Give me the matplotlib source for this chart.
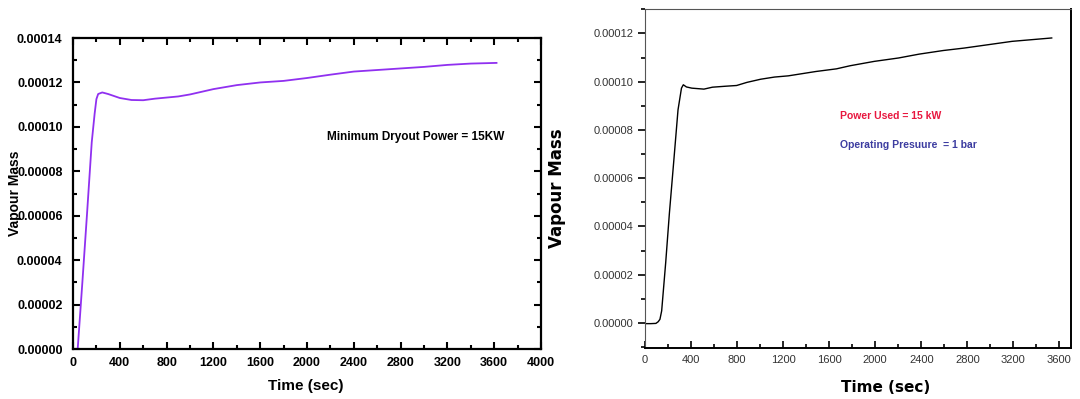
import numpy as np
import matplotlib
matplotlib.use("Agg")
import matplotlib.pyplot as plt
from matplotlib.ticker import MultipleLocator, FormatStrFormatter

# left chart: minimum dryout power run
t_left = [40, 80, 120, 160, 185, 200, 215, 250, 300, 400, 500, 600, 700, 800,
          900, 1000, 1100, 1200, 1400, 1600, 1800, 2000, 2200, 2400, 2600,
          2800, 3000, 3200, 3400, 3620]
m_left = [0.0, 0.000030, 0.000061, 0.000093, 0.000106, 0.0001125, 0.0001148,
          0.0001155, 0.0001148, 0.000113, 0.0001121, 0.000112, 0.0001127,
          0.0001132, 0.0001137, 0.0001146, 0.0001158, 0.000117, 0.0001188,
          0.00012, 0.0001207, 0.000122, 0.0001235, 0.0001249, 0.0001256,
          0.0001263, 0.000127, 0.0001279, 0.0001285, 0.0001288]

# right chart: 15 kW, 1 bar
t_right = [0, 50, 95, 115, 130, 145, 180, 212, 250, 287, 317, 333, 360, 407,
           512, 586, 700, 796, 886, 1005, 1125, 1245, 1484, 1663, 1783, 1992,
           2202, 2381, 2591, 2770, 2980, 3189, 3533]
m_right = [-0.0000003, -0.0000003, -0.0000002, 0.0000005, 0.0000015, 0.000005,
           0.000025, 0.0000454, 0.000067, 0.0000883, 0.0000973, 0.0000987,
           0.0000978, 0.0000973, 0.0000969, 0.0000977, 0.0000981, 0.0000984,
           0.0000997, 0.000101, 0.0001019, 0.0001024, 0.0001042, 0.0001053,
           0.0001066, 0.0001084, 0.0001098, 0.0001114, 0.0001129, 0.0001139,
           0.0001153, 0.0001167, 0.0001181]

fig = plt.figure(figsize=(10.8, 3.99), dpi=100)

# ---- left ----
ax1 = fig.add_axes([0.0676, 0.1253, 0.4333, 0.7794])
ax1.plot(t_left, m_left, color="#9030f0", lw=1.3)
ax1.set_xlim(0, 4000)
ax1.set_ylim(0, 0.00014)
ax1.xaxis.set_major_locator(MultipleLocator(400))
ax1.xaxis.set_minor_locator(MultipleLocator(200))
ax1.yaxis.set_major_locator(MultipleLocator(0.00002))
ax1.yaxis.set_minor_locator(MultipleLocator(0.00001))
ax1.yaxis.set_major_formatter(FormatStrFormatter("%.5f"))
ax1.tick_params(which="both", direction="in", top=True, right=True, width=1.5)
ax1.tick_params(which="major", length=5)
ax1.tick_params(which="minor", length=3)
ax1.tick_params(axis="y", which="major", pad=7.5)
ax1.tick_params(axis="x", which="major", pad=5.5)
for s in ax1.spines.values():
    s.set_linewidth(1.6)
for lab in ax1.get_xticklabels() + ax1.get_yticklabels():
    lab.set_fontfamily("Liberation Sans")
    lab.set_fontweight("bold")
    lab.set_fontsize(9)
ax1.set_xlabel("Time (sec)", fontsize=11, fontweight="bold", family="Liberation Sans")
ax1.xaxis.set_label_coords(0.498, -0.096)
ax1.set_ylabel("Vapour Mass", fontsize=10, fontweight="bold", family="Liberation Sans")
ax1.yaxis.set_label_coords(-0.109, 0.5)
ax1.text(0.543, 0.682, "Minimum Dryout Power = 15KW", transform=ax1.transAxes,
         fontsize=8.5, fontweight="bold", family="Liberation Sans", va="center")

# ---- right ----
ax2 = fig.add_axes([0.5972, 0.1278, 0.3944, 0.849])
ax2.plot(t_right, m_right, color="black", lw=1.0)
ax2.set_xlim(0, 3700)
ax2.set_ylim(-0.0000104, 0.00013)
ax2.xaxis.set_major_locator(MultipleLocator(400))
ax2.xaxis.set_minor_locator(MultipleLocator(200))
ax2.yaxis.set_major_locator(MultipleLocator(0.00002))
ax2.yaxis.set_minor_locator(MultipleLocator(0.00001))
ax2.yaxis.set_major_formatter(FormatStrFormatter("%.5f"))
ax2.tick_params(axis="x", which="both", direction="in", width=1.2)
ax2.tick_params(axis="y", which="both", direction="out", width=1.2)
ax2.tick_params(which="major", length=5)
ax2.tick_params(which="minor", length=3)
ax2.tick_params(axis="x", which="major", pad=5)
ax2.spines["left"].set_color("#555555")
ax2.spines["top"].set_color("#555555")
ax2.spines["bottom"].set_linewidth(1.4)
ax2.spines["right"].set_linewidth(1.4)
for lab in ax2.get_xticklabels() + ax2.get_yticklabels():
    lab.set_fontfamily("Liberation Sans")
    lab.set_fontsize(8)
    lab.set_color("#333333")
ax2.set_xlabel("Time (sec)", fontsize=11, fontweight="bold", family="DejaVu Sans")
ax2.xaxis.set_label_coords(0.566, -0.094)
ax2.set_ylabel("Vapour Mass", fontsize=12, fontweight="bold", family="DejaVu Sans")
ax2.yaxis.set_label_coords(-0.185, 0.472)
ax2.text(0.458, 0.684, "Power Used = 15 kW", transform=ax2.transAxes,
         fontsize=7.5, fontweight="bold", family="Liberation Sans",
         color="#e8173f", va="center")
ax2.text(0.458, 0.599, "Operating Presuure  = 1 bar", transform=ax2.transAxes,
         fontsize=7.5, fontweight="bold", family="Liberation Sans",
         color="#3c3ca0", va="center")

fig.savefig("out.png", dpi=100)
